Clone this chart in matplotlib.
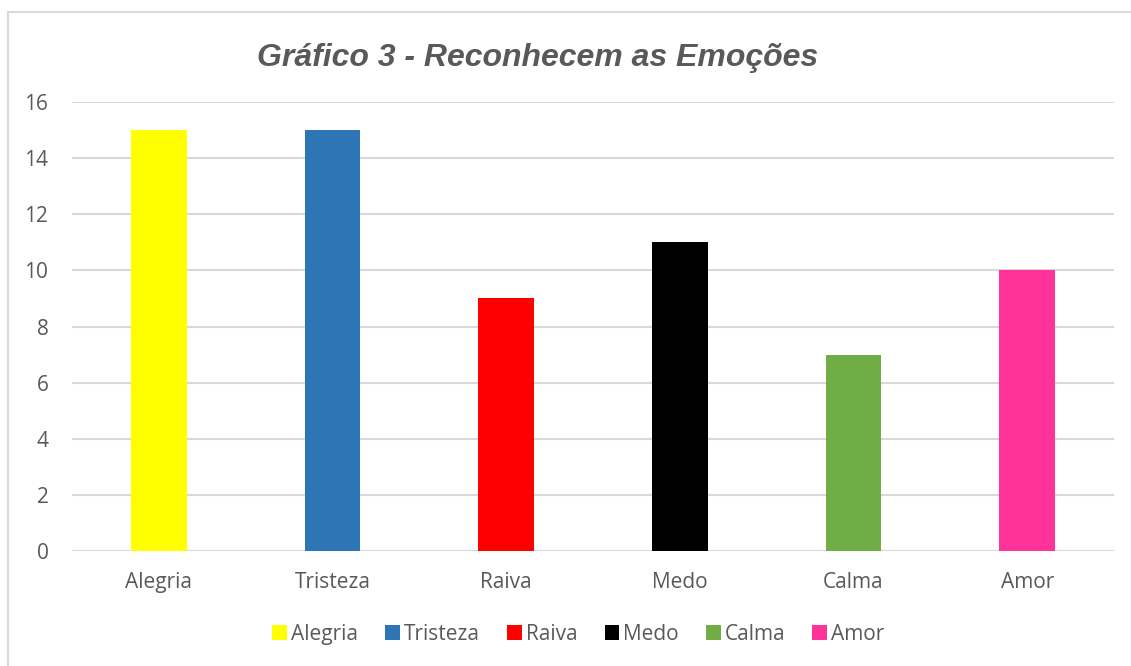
import matplotlib

matplotlib.use("Agg")
import matplotlib.pyplot as plt
from matplotlib.patches import Rectangle

categories = ["Alegria", "Tristeza", "Raiva", "Medo", "Calma", "Amor"]
values = [15, 15, 9, 11, 7, 10]
colors = ["#FFFF00", "#2E75B6", "#FF0000", "#000000", "#70AD47", "#FF3399"]
yticks = [0, 2, 4, 6, 8, 10, 12, 14, 16]
title = "Gráfico 3 - Reconhecem as Emoções"

TEXT = "#595959"
GRID = "#D9D9D9"

fig = plt.figure(figsize=(11.31, 6.66), dpi=100)
ax = fig.add_axes([0.0637, 0.1727, 0.9213, 0.6741])

x = range(len(categories))
bars = ax.bar(x, values, width=0.32, color=colors, zorder=3)

ax.set_xlim(-0.5, len(categories) - 0.5)
ax.set_ylim(0, 16)
ax.set_yticks(yticks)
ax.set_xticks(list(x))
ax.set_xticklabels(categories)
ax.yaxis.grid(True, color=GRID, lw=1.5, zorder=0)
ax.axhline(0, color=GRID, lw=1.5, zorder=1)
for s in ax.spines.values():
    s.set_visible(False)
ax.tick_params(length=0, labelsize=15, labelcolor=TEXT)
ax.tick_params(axis="x", pad=15)
ax.tick_params(axis="y", pad=17)
for lbl in ax.get_xticklabels() + ax.get_yticklabels():
    lbl.set_family("Open Sans")

fig.text(0.475, 0.913, title, ha="center", va="center", fontsize=23,
         fontweight="bold", fontstyle="italic", color=TEXT,
         family="Liberation Sans")

leg = ax.legend(bars, categories, loc="center", bbox_to_anchor=(0.486, -0.185),
                ncol=6, frameon=False, handlelength=0.7, handleheight=0.7,
                handletextpad=0.2, columnspacing=1.3,
                prop={"family": "Open Sans", "size": 15})
for t in leg.get_texts():
    t.set_color(TEXT)

# chart area border (cut off at right/bottom like the source)
fig.patches.append(Rectangle((8 / 1131, -0.05), 1.2, 1 - 12 / 666 + 0.05,
                             transform=fig.transFigure, fill=False,
                             edgecolor="#D9D9D9", lw=1.5))

fig.savefig("out.png", dpi=100)
